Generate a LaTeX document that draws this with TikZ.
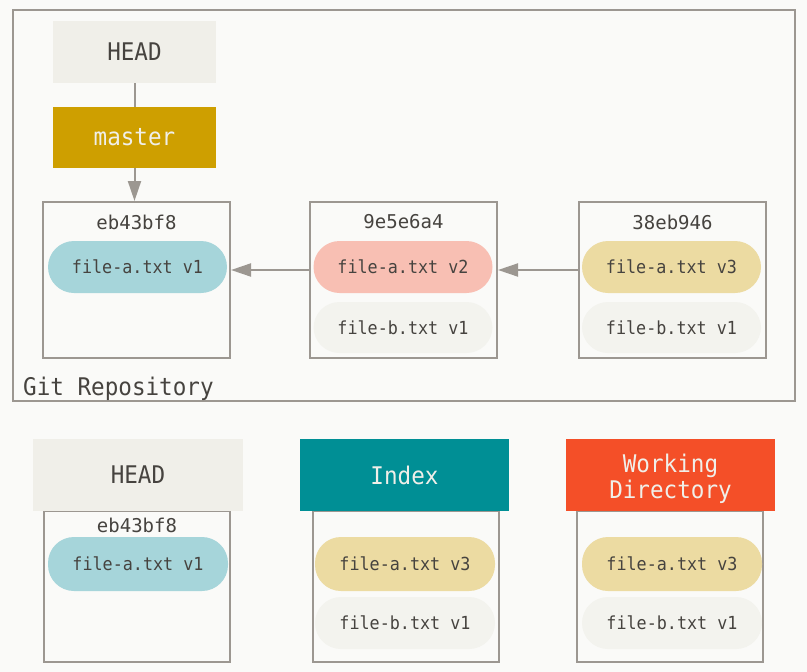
\documentclass[tikz,border=0pt]{standalone}
\usepackage{fontspec}
\setmonofont{DejaVu Sans Mono}
\newfontfamily\narrowmono[FakeStretch=0.93]{DejaVu Sans Mono}
\usetikzlibrary{arrows.meta,positioning,calc}
\definecolor{bgc}{HTML}{FAFAF8}
\definecolor{linec}{HTML}{9C9791}
\definecolor{txtc}{HTML}{46433F}
\definecolor{headc}{HTML}{F0EFE9}
\definecolor{masterc}{HTML}{CE9F00}
\definecolor{blue}{HTML}{A6D5DA}
\definecolor{pink}{HTML}{F8BFB3}
\definecolor{yel}{HTML}{ECDBA2}
\definecolor{greyp}{HTML}{F3F3EE}
\definecolor{teal}{HTML}{008F95}
\definecolor{wdc}{HTML}{F44F28}
\definecolor{lighttxt}{HTML}{F0EFE9}
\tikzset{
  x=1pt, y=-1pt,
  frame/.style={draw=linec, line width=2pt},
  label/.style={inner sep=0pt, minimum width=163pt, minimum height=62pt, font=\fontsize{24.3}{25.5}\selectfont\narrowmono, align=center},
  headbox/.style={label, fill=headc, text=txtc},
  commitbox/.style={draw=linec, line width=2pt, fill=bgc, minimum width=187pt, minimum height=156pt, inner sep=0pt},
  lowbox/.style={draw=linec, line width=2pt, fill=bgc, minimum width=186pt, minimum height=151pt, inner sep=0pt},
  pill/.style={rounded corners=26pt, minimum width=179pt, minimum height=52pt, inner sep=0pt, font=\fontsize{18}{20}\selectfont\narrowmono, text=txtc},
  hash/.style={font=\fontsize{19}{22}\selectfont\ttfamily, text=txtc, inner sep=0pt},
  conn/.style={draw=linec, line width=2pt},
  arr/.style={conn, -{Triangle[length=20pt,width=13pt]}},
}
\begin{document}
\begin{tikzpicture}
\fill[bgc] (0,0) rectangle (807,672);
\useasboundingbox (0,0) rectangle (807,672);
% Git repository frame
\draw[frame] (13,10) rectangle (795,401);
\node[anchor=base west, inner sep=0pt, font=\fontsize{24.3}{25}\selectfont\narrowmono, text=txtc] (repo) at (23,395) {Git Repository};

% HEAD and master
\node[headbox, minimum width=163pt, minimum height=62pt] (h1) at (134.5,52) {HEAD};
\node[label, fill=masterc, text=lighttxt, minimum width=163pt, minimum height=61pt] (m) at (134.5,137.5) {master};

% commits
\node[commitbox] (c1) at (136.5,280) {};
\node[commitbox] (c2) at (403.5,280) {};
\node[commitbox] (c3) at (672.5,280) {};
\node[hash] (c1h) at (136.5,222) {eb43bf8};
\node[hash] (c2h) at (403.5,222) {9e5e6a4};
\node[hash] (c3h) at (672.5,222) {38eb946};
\node[pill, fill=blue] (c1a) at (137.5,267) {file-a.txt v1};
\node[pill, fill=pink] (c2a) at (403,267) {file-a.txt v2};
\node[pill, fill=greyp, minimum height=51pt] (c2b) at (403,327.5) {file-b.txt v1};
\node[pill, fill=yel] (c3a) at (671.5,267) {file-a.txt v3};
\node[pill, fill=greyp, minimum height=51pt] (c3b) at (671.5,327.5) {file-b.txt v1};

\draw[conn] (h1.south) -- (m.north);
\draw[arr] (m.south) -- (m.south |- c1.north);
\draw[arr] ([yshift=10pt]c2.west) -- ([yshift=10pt]c1.east);
\draw[arr] ([yshift=10pt]c3.west) -- ([yshift=10pt]c2.east);

% bottom: three areas
\node[lowbox] (lh) at (137,586.5) {};
\node[lowbox] (li) at (405.5,586.5) {};
\node[lowbox] (lw) at (670,586.5) {};
\node[headbox, minimum width=210pt, minimum height=72pt] (h2) at (138,475) {HEAD};
\node[label, fill=teal, text=lighttxt, minimum width=209pt, minimum height=72pt] (ix) at (404.5,475) {Index};
\node[label, fill=wdc, minimum width=209pt, minimum height=72pt] (wd) at (670.5,475) {};
\node[label, text=lighttxt, minimum width=0pt, minimum height=0pt] (wdt) at (670.5,479) {Working\\Directory};

\node[hash] (h2h) at (137,525) {eb43bf8};
\node[pill, fill=blue, minimum height=54pt, minimum width=180pt] (la) at (138,564) {file-a.txt v1};
\node[pill, fill=yel, minimum height=54pt, minimum width=180pt] (ia) at (405,564) {file-a.txt v3};
\node[pill, fill=greyp, minimum height=52pt, minimum width=180pt] (ib) at (405,623) {file-b.txt v1};
\node[pill, fill=yel, minimum height=54pt, minimum width=180pt] (wa) at (672,564) {file-a.txt v3};
\node[pill, fill=greyp, minimum height=52pt, minimum width=180pt] (wb) at (672,623) {file-b.txt v1};
\end{tikzpicture}
\end{document}
